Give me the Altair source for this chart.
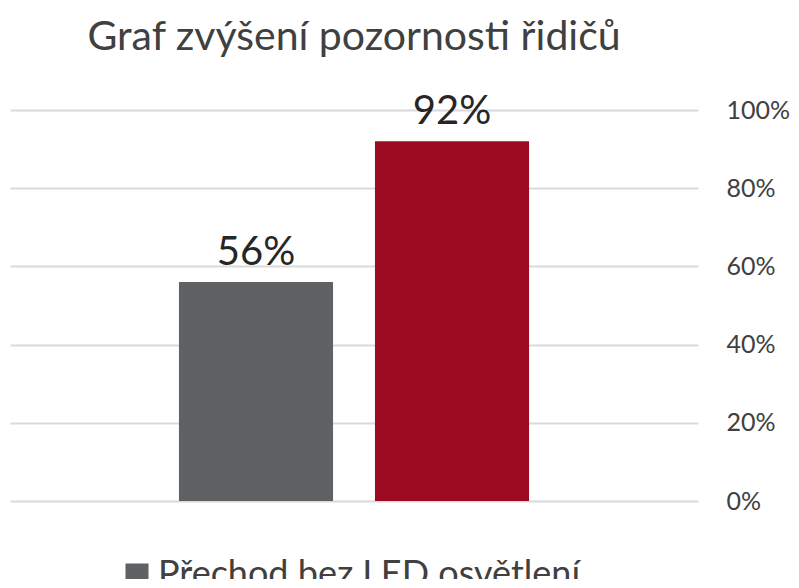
import altair as alt
import pandas as pd

series = ["Přechod bez LED osvětlení", "Přechod s LED osvětlením"]
values = [0.56, 0.92]
labels = ["56%", "92%"]
colors = ["#606163", "#9b0a21"]
y_ticks = [0, 0.2, 0.4, 0.6, 0.8, 1.0]

df = pd.DataFrame({"series": series, "value": values, "label": labels})

FONT = "Lato"
TXT = "#404040"

x_scale = alt.Scale(paddingInner=0.214, paddingOuter=0.862)
y_scale = alt.Scale(domain=[0, 1])

bars = alt.Chart(df).mark_bar().encode(
    x=alt.X("series:N", sort=series, axis=None, scale=x_scale),
    y=alt.Y("value:Q", scale=y_scale,
            axis=alt.Axis(orient="right", values=y_ticks, format=".0%",
                          grid=True, gridColor="#d9d9d9", gridWidth=2,
                          domain=False, ticks=False, labelPadding=28,
                          labelAlign="left", labelFont=FONT, labelFontSize=25,
                          labelColor=TXT, title=None)),
    color=alt.Color("series:N", sort=series,
                    scale=alt.Scale(domain=series, range=colors),
                    legend=alt.Legend(orient="none", legendX=109, legendY=447,
                                      values=[series[0]], title=None,
                                      symbolType="square", symbolSize=530,
                                      symbolStrokeWidth=0, labelFont=FONT,
                                      labelFontSize=36, labelColor=TXT,
                                      labelLimit=700, labelOffset=3)),
)

text = alt.Chart(df).mark_text(baseline="alphabetic", dy=-17, font=FONT,
                               fontSize=40, color="#262626").encode(
    x=alt.X("series:N", sort=series, axis=None, scale=x_scale),
    y=alt.Y("value:Q", scale=y_scale),
    text="label:N",
)

chart = (bars + text).properties(
    width=688, height=391,
    title=alt.TitleParams("Graf zvýšení pozornosti řidičů", font=FONT,
                          fontSize=41, fontWeight="normal", color=TXT,
                          anchor="middle", frame="group", offset=33),
    autosize=alt.AutoSizeParams(type="none"),
    padding={"left": 2, "top": 102, "right": 93, "bottom": 78},
).configure_view(stroke=None)

chart.save("out.html", embed_options={"renderer": "svg", "actions": False})
